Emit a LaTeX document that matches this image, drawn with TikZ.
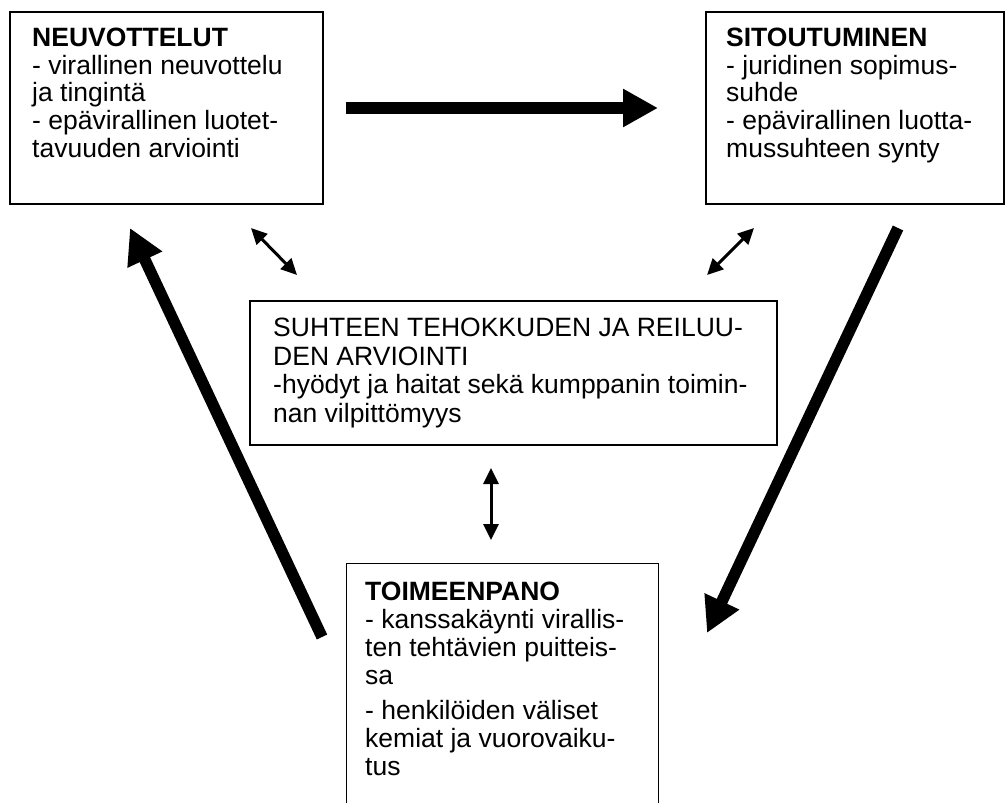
\documentclass[tikz,border=0pt]{standalone}
\usepackage{fontspec}
\setmainfont{Liberation Sans}
\usetikzlibrary{arrows.meta}
\tikzset{
  boxframe/.style={draw, line width=1.3bp, rectangle, inner sep=0pt},
  openframe/.style={rectangle, inner sep=0pt},
  boxtext/.style={anchor=north west, inner sep=0pt, align=left,
    font=\fontsize{26.5bp}{27.8bp}\selectfont},
  bigarrow/.style={line width=11.5bp, -{Triangle[length=35bp,width=36bp]}},
  smallarrow/.style={line width=3bp,
    {Triangle[length=16bp,width=15bp]}-{Triangle[length=16bp,width=15bp]}},
}
\begin{document}
\begin{tikzpicture}[x=1bp,y=-1bp]
\useasboundingbox (0,0) rectangle (1006,803);

% boxes
\node[boxframe, minimum width=313bp, minimum height=192bp] (neg) at (166.5,108) {};
\node[boxframe, minimum width=298bp, minimum height=192bp] (sit) at (855,108) {};
\node[boxframe, minimum width=527bp, minimum height=144bp] (arv) at (513.5,373) {};
\node[openframe, minimum width=311bp, minimum height=260bp] (toi) at (502.5,694) {};
\draw[line width=1.3bp] (toi.south west) |- (toi.north east) -- (toi.south east);

% texts
\node[boxtext] (negt) at (32,26) {\rule{0pt}{20bp}\textbf{NEUVOTTELUT}\\- virallinen neuvottelu\\ja tingintä\\- epävirallinen luotet-\\tavuuden arviointi};
\node[boxtext] (sitt) at (726,26) {\rule{0pt}{20bp}\textbf{SITOUTUMINEN}\\- juridinen sopimus-\\suhde\\- epävirallinen luotta-\\mussuhteen synty};
\node[boxtext, font=\fontsize{26.5bp}{28.5bp}\selectfont] (arvt) at (273,316.5) {\rule{0pt}{20bp}SUHTEEN TEHOKKUDEN JA REILUU-\\DEN ARVIOINTI\\-hyödyt ja haitat sekä kumppanin toimin-\\nan vilpittömyys};
\node[boxtext, font=\fontsize{26.5bp}{28bp}\selectfont] (toit) at (365,580) {\rule{0pt}{20bp}\textbf{TOIMEENPANO}\\- kanssakäynti virallis-\\ten tehtävien puitteis-\\sa\\[7bp]- henkilöiden väliset\\kemiat ja vuorovaiku-\\tus};

% arrow end points
\coordinate (h1) at (346,108);
\coordinate (h2) at (658,108);
\coordinate (l1) at (322,637);
\coordinate (l2) at (130,228);
\coordinate (r1) at (898,228);
\coordinate (r2) at (707,633);
\coordinate (sl1) at (251,228);
\coordinate (sl2) at (297,275);
\coordinate (sr1) at (754,228);
\coordinate (sr2) at (707,275);
\coordinate (v1) at (491,468);
\coordinate (v2) at (491,540);

\draw[bigarrow] (h1) -- (h2);
\draw[bigarrow] (l1) -- (l2);
\draw[bigarrow] (r1) -- (r2);
\draw[smallarrow] (sl1) -- (sl2);
\draw[smallarrow] (sr1) -- (sr2);
\draw[smallarrow] (v1) -- (v2);
\end{tikzpicture}
\end{document}
